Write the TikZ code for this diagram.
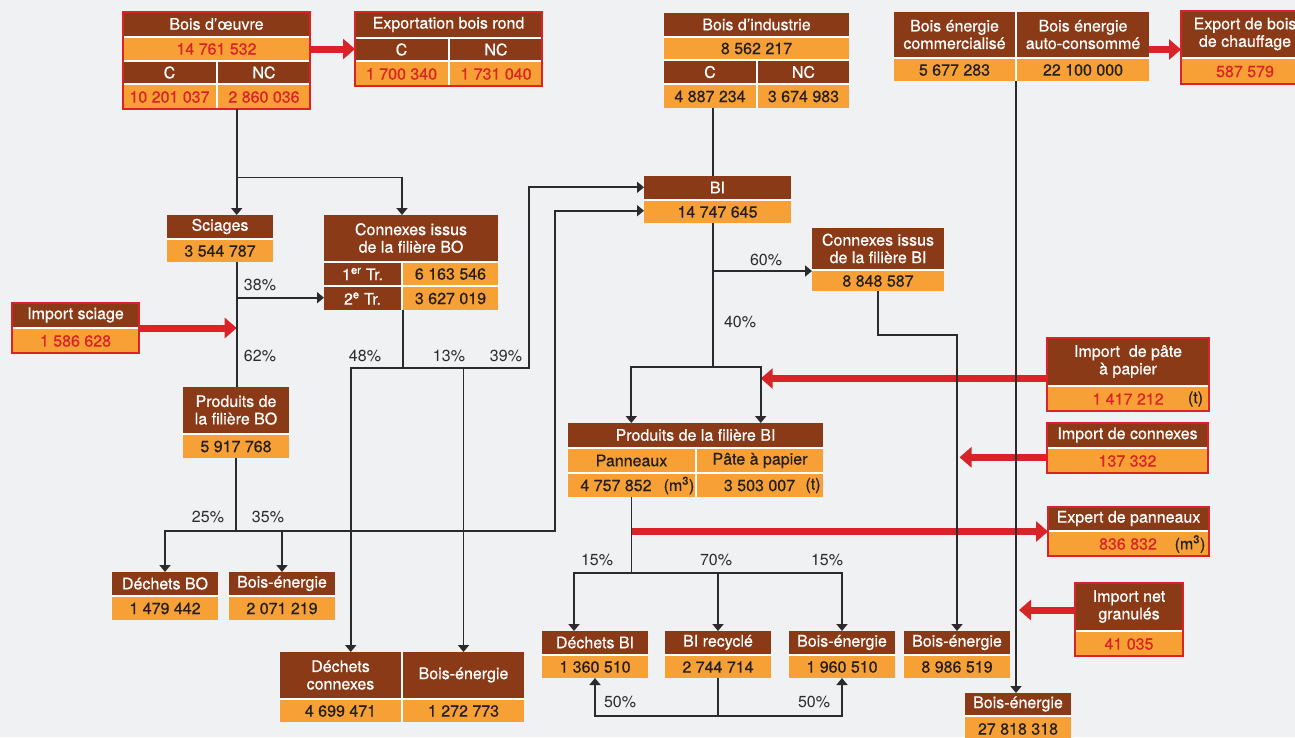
\documentclass[tikz,border=0pt]{standalone}
\usepackage{fontspec}
\setmainfont{TeX Gyre Heros}
\newfontfamily\boxfont{TeX Gyre Heros}[FakeBold=0.6]
\usetikzlibrary{arrows.meta}
\definecolor{cbrown}{HTML}{8B3A18}
\definecolor{corange}{HTML}{F7A035}
\definecolor{cred}{HTML}{DA2229}
\definecolor{cbg}{HTML}{EFF1F3}
\definecolor{cink}{HTML}{231F20}
\definecolor{cline}{HTML}{2B2B2B}
\newcommand\cell[7]{\node[#6, minimum width={(#4-#2)*1pt}, minimum height={(#5-#3)*1pt}] (#1) at ({(#2+#4)/2},{(#3+#5)/2}) {#7};}
\newcommand\frm[6]{\node[#6, inner sep=0pt, outer sep=0pt, minimum width={(#4-#2)*1pt}, minimum height={(#5-#3)*1pt}] (#1) at ({(#2+#4)/2},{(#3+#5)/2}) {};}
\tikzset{
 cellbase/.style={inner sep=0pt, outer sep=0pt, align=center, font=\boxfont\fontsize{16}{17.5}\selectfont},
 hd/.style={cellbase, fill=cbrown, text=white},
 nm/.style={cellbase, fill=corange, text=cink},
 nmr/.style={nm, text=cred},
 tx/.style={cellbase, text=cink},
 txr/.style={cellbase, text=cred},
 wbg/.style={fill=white},
 rbord/.style={draw=cred, line width=2.5pt},
 ln/.style={draw=cline, line width=1.8pt},
 arr/.style={ln, -{Triangle[width=11pt,length=7pt]}},
 redarr/.style={draw=cred, line width=7pt, -{Triangle[width=20pt,length=12pt]}},
 pct/.style={font=\fontsize{16}{18}\selectfont, text=cline, inner sep=0pt},
}
\begin{document}
\begin{tikzpicture}[x=1pt,y=-1pt]
\fill[cbg] (0,0) rectangle (1295,737);
\useasboundingbox (0,0) rectangle (1295,737);
\clip (0,0) rectangle (1295,737);

% ---------- Bois d'oeuvre
\frm{boF}{123}{12}{310}{109}{wbg}
\cell{boH}{123}{12}{310}{36}{hd}{Bois d’œuvre}
\cell{boN}{123}{38}{310}{60}{nmr}{14 761 532}
\cell{boC}{123}{62}{216}{83}{hd}{C}
\cell{boNC}{218}{62}{310}{83}{hd}{NC}
\cell{boCv}{123}{85}{216}{109}{nmr}{10 201 037}
\cell{boNCv}{218}{85}{310}{109}{nmr}{2 860 036}
\frm{boR}{123}{12}{310}{109}{rbord}

% ---------- Exportation bois rond
\frm{exF}{355}{12}{542}{86}{wbg}
\cell{exH}{355}{12}{542}{37}{hd}{Exportation bois rond}
\cell{exC}{355}{39}{448}{60}{hd}{C}
\cell{exNC}{450}{39}{542}{60}{hd}{NC}
\cell{exCv}{355}{62}{448}{86}{nmr}{1 700 340}
\cell{exNCv}{450}{62}{542}{86}{nmr}{1 731 040}
\frm{exR}{355}{12}{542}{86}{rbord}

% ---------- Bois d'industrie
\frm{biF}{664}{13}{849}{108}{wbg}
\cell{biH}{664}{13}{849}{36}{hd}{Bois d’industrie}
\cell{biN}{664}{38}{849}{59}{nm}{8 562 217}
\cell{biC}{664}{61}{756}{83}{hd}{C}
\cell{biNC}{758}{61}{849}{83}{hd}{NC}
\cell{biCv}{664}{85}{756}{108}{nm}{4 887 234}
\cell{biNCv}{758}{85}{849}{108}{nm}{3 674 983}

% ---------- Bois energie
\frm{beF}{894}{12}{1149}{81}{wbg}
\cell{beH1}{894}{12}{1015}{57}{hd}{Bois énergie\\commercialisé}
\cell{beH2}{1017}{12}{1149}{57}{hd}{Bois énergie\\auto-consommé}
\cell{beV1}{894}{59}{1015}{81}{nm}{5 677 283}
\cell{beV2}{1017}{59}{1149}{81}{nm}{22 100 000}

% ---------- Export de bois de chauffage
\frm{ecF}{1181}{11}{1309}{84}{wbg}
\cell{ecH}{1181}{11}{1309}{57}{hd}{Export de bois\\de chauffage}
\cell{ecV}{1181}{59}{1309}{84}{nmr}{587 579}
\frm{ecR}{1181}{11}{1309}{84}{rbord}

% ---------- Sciages
\frm{sF}{167}{215}{273}{262}{wbg}
\cell{sH}{167}{215}{273}{238}{hd}{Sciages}
\cell{sN}{167}{240}{273}{262}{nm}{3 544 787}

% ---------- Connexes BO
\frm{cbF}{324}{215}{498}{310}{wbg}
\cell{cbH}{324}{215}{498}{261}{hd}{Connexes issus\\de la filière BO}
\cell{cb1a}{324}{263}{401}{285}{hd}{1\textsuperscript{er} Tr.}
\cell{cb1b}{403}{263}{498}{285}{nm}{6 163 546}
\cell{cb2a}{324}{287}{401}{310}{hd}{2\textsuperscript{e} Tr.}
\cell{cb2b}{403}{287}{498}{310}{nm}{3 627 019}

% ---------- Import sciage
\frm{isF}{12}{303}{139}{353}{wbg}
\cell{isH}{12}{303}{139}{327}{hd}{Import sciage}
\cell{isN}{12}{329}{139}{353}{nmr}{1 586 628}
\frm{isR}{12}{303}{139}{353}{rbord}

% ---------- Produits BO
\frm{pbF}{183}{387}{289}{458}{wbg}
\cell{pbH}{183}{387}{289}{433}{hd}{Produits de\\la filière BO}
\cell{pbN}{183}{435}{289}{458}{nm}{5 917 768}

% ---------- Dechets BO / Bois-energie
\frm{dbF}{112}{572}{218}{620}{wbg}
\cell{dbH}{112}{572}{218}{595}{hd}{Déchets BO}
\cell{dbN}{112}{597}{218}{620}{nm}{1 479 442}
\frm{ebF}{229}{572}{335}{620}{wbg}
\cell{ebH}{229}{572}{335}{595}{hd}{Bois-énergie}
\cell{ebN}{229}{597}{335}{620}{nm}{2 071 219}

% ---------- Dechets connexes / Bois-energie
\frm{dcF}{280}{652}{524}{722}{wbg}
\cell{dcH}{280}{652}{401}{698}{hd}{Déchets\\connexes}
\cell{ecxH}{403}{652}{524}{698}{hd}{Bois-énergie}
\cell{dcN}{280}{700}{401}{722}{nm}{4 699 471}
\cell{ecxN}{403}{700}{524}{722}{nm}{1 272 773}

% ---------- BI
\frm{bF}{644}{176}{791}{223}{wbg}
\cell{bH}{644}{176}{791}{199}{hd}{BI}
\cell{bN}{644}{201}{791}{223}{nm}{14 747 645}

% ---------- Connexes BI
\frm{ciF}{812}{228}{944}{291}{wbg}
\cell{ciH}{812}{228}{944}{269}{hd}{Connexes issus\\de la filière BI}
\cell{ciN}{812}{271}{944}{291}{nm}{8 848 587}

% ---------- Produits BI
\frm{pF}{568}{423}{823}{497}{wbg}
\cell{pH}{568}{423}{823}{447}{hd}{Produits de la filière BI}
\cell{pP}{568}{449}{695}{472}{nm}{Panneaux}
\cell{pPa}{697}{449}{823}{472}{nm}{Pâte à papier}
\cell{pPv}{568}{474}{695}{497}{nm}{}
\cell{pPav}{697}{474}{823}{497}{nm}{}
\node[tx] (pT1) at (616,485.5) {4 757 852};
\node[tx] (pT2) at (679,485.5) {(m\textsuperscript{3})};
\node[tx] (pT3) at (759.5,485.5) {3 503 007};
\node[tx] (pT4) at (813,485.5) {(t)};

% ---------- Import de pate a papier
\frm{ipF}{1047}{338}{1209}{411}{wbg}
\cell{ipH}{1047}{338}{1209}{385}{hd}{Import\ \ de pâte\\à papier}
\cell{ipN}{1047}{387}{1209}{411}{nm}{}
\node[txr] (ipT1) at (1128,399) {1 417 212};
\node[tx] (ipT2) at (1195.5,399) {(t)};
\frm{ipR}{1047}{338}{1209}{411}{rbord}

% ---------- Import de connexes
\frm{icF}{1047}{423}{1208}{473}{wbg}
\cell{icH}{1047}{423}{1208}{447}{hd}{Import de connexes}
\cell{icN}{1047}{449}{1208}{473}{nmr}{137 332}
\frm{icR}{1047}{423}{1208}{473}{rbord}

% ---------- Expert de panneaux
\frm{epF}{1048}{507}{1209}{556}{wbg}
\cell{epH}{1048}{507}{1209}{530}{hd}{Expert de panneaux}
\cell{epN}{1048}{532}{1209}{556}{nm}{}
\node[txr] (epT1) at (1128,544) {836 832};
\node[tx] (epT2) at (1190,544) {(m\textsuperscript{3})};
\frm{epR}{1048}{507}{1209}{556}{rbord}

% ---------- Import net granules
\frm{ngF}{1075}{583}{1183}{656}{wbg}
\cell{ngH}{1075}{583}{1183}{630}{hd}{Import net\\granulés}
\cell{ngN}{1075}{632}{1183}{656}{nmr}{41 035}
\frm{ngR}{1075}{583}{1183}{656}{rbord}

% ---------- bottom row BI
\frm{dbiF}{542}{631}{648}{678}{wbg}
\cell{dbiH}{542}{631}{648}{654}{hd}{Déchets BI}
\cell{dbiN}{542}{656}{648}{678}{nm}{1 360 510}
\frm{brF}{665}{631}{771}{678}{wbg}
\cell{brH}{665}{631}{771}{654}{hd}{BI recyclé}
\cell{brN}{665}{656}{771}{678}{nm}{2 744 714}
\frm{be1F}{789}{631}{895}{678}{wbg}
\cell{be1H}{789}{631}{895}{654}{hd}{Bois-énergie}
\cell{be1N}{789}{656}{895}{678}{nm}{1 960 510}
\frm{be2F}{904}{631}{1010}{678}{wbg}
\cell{be2H}{904}{631}{1010}{654}{hd}{Bois-énergie}
\cell{be2N}{904}{656}{1010}{678}{nm}{8 986 519}
\frm{btF}{965}{693}{1071}{741}{wbg}
\cell{btH}{965}{693}{1071}{715}{hd}{Bois-énergie}
\cell{btN}{965}{717}{1071}{741}{nm}{27 818 318}

% ---------- junction coordinates
\coordinate (jA) at (236.7,177.5);
\coordinate (jB) at (402,177.5);
\coordinate (jC) at (236.7,297.7);
\coordinate (jS) at (236.7,531);
\coordinate (jN) at (554.6,531);
\coordinate (jT) at (554.6,210.7);
\coordinate (jO) at (403,368.3);
\coordinate (jP) at (350.7,368.3);
\coordinate (jM) at (528.6,368.3);
\coordinate (jR) at (528.6,187.3);
\coordinate (jK) at (713,271);
\coordinate (jE) at (631.3,367);
\coordinate (jF) at (760.7,367);
\coordinate (jG) at (957,335);
\coordinate (jJ) at (1016,300);
\coordinate (jI) at (631.5,572.7);
\coordinate (jU) at (574,572.7);
\coordinate (jV) at (842,572.7);
\coordinate (jW) at (718,716);
\coordinate (tipC) at (959.5,457.3);
\coordinate (tipN) at (1019,610);

% ---------- red arrows
\draw[redarr] (exF.west -| boF.east) -- (exF.west);
\draw[redarr] ([yshift=-2pt]ecF.west -| beF.east) -- ([yshift=-2pt]ecF.west);
\draw[redarr] (isF.east) -- (isF.east -| jA);
\draw[redarr] ([yshift=-4pt]ipF.west) -- ([yshift=-4pt]ipF.west -| jF);
\draw[redarr] (icF.west |- tipC) -- (tipC);
\draw[redarr] (epF.west -| pPv.south) -- (epF.west);
\draw[redarr] (ngF.west |- tipN) -- (tipN);

% ---------- black connectors
\draw[ln] (jA |- boF.south) -- (jA);
\draw[arr] (jA) -- (jA |- sH.north);
\draw[arr] (jA) -- (jB) -- (jB |- cbH.north);
\draw[ln] (jA |- sN.south) -- (jA |- pbH.north);
\draw[arr] (jC) -- (jC -| cb2a.west);
\draw[ln] (pbN.south) -- (pbN.south |- jS);
\draw[arr] (jS) -- (dbH.north |- jS) -- (dbH.north);
\draw[arr] (ebH.north |- jS) -- (ebH.north);
\draw[arr] (jS) -- (jN) -- (jT) -- (jT -| bN.west);
\draw[ln] (cb2b.south west) -- (jO);
\draw[arr] (jO) -- (jP) -- (jP |- dcH.north);
\draw[arr] (ecxH.north |- jO) -- (ecxH.north);
\draw[arr] (jO) -- (jM) -- (jR) -- (jR -| bH.west);
\draw[ln] (jK |- biF.south) -- (jK |- bH.north);
\draw[ln] (jK |- bN.south) -- (jK |- jF);
\draw[arr] (jK) -- (jK -| ciN.west);
\draw[arr] (jK |- jF) -- (jE) -- (jE |- pH.north);
\draw[arr] (jK |- jF) -- (jF) -- (jF |- pH.north);
\draw[arr] (ciN.south) -- (ciN.south |- jG) -- (jG) -- (jG |- be2H.north);
\draw[arr] (jJ |- beF.south) -- (jJ |- btH.north);
\draw[ln] (pPv.south) -- (jI);
\draw[arr] (jI) -- (jU) -- (jU |- dbiH.north);
\draw[arr] (jI) -- (jV) -- (jV |- be1H.north);
\draw[arr] (brH.north |- jI) -- (brH.north);
\draw[ln] (brN.south) -- (brN.south |- jW);
\draw[arr] (brN.south |- jW) -- (dbiN.south |- jW) -- (dbiN.south);
\draw[arr] (brN.south |- jW) -- (be1N.south |- jW) -- (be1N.south);

% ---------- percentages
\node[pct] (p38) at (260,285) {38\%};
\node[pct] (p62) at (260,356) {62\%};
\node[pct] (p48) at (365,356) {48\%};
\node[pct] (p13) at (449,356) {13\%};
\node[pct] (p39) at (506,356) {39\%};
\node[pct] (p25) at (208,517) {25\%};
\node[pct] (p35) at (268,517) {35\%};
\node[pct] (p60) at (766,260) {60\%};
\node[pct] (p40) at (740,322) {40\%};
\node[pct] (p15a) at (597,560) {15\%};
\node[pct] (p70) at (716,560) {70\%};
\node[pct] (p15b) at (827,560) {15\%};
\node[pct] (p50a) at (620,702) {50\%};
\node[pct] (p50b) at (814,702) {50\%};
\end{tikzpicture}
\end{document}
